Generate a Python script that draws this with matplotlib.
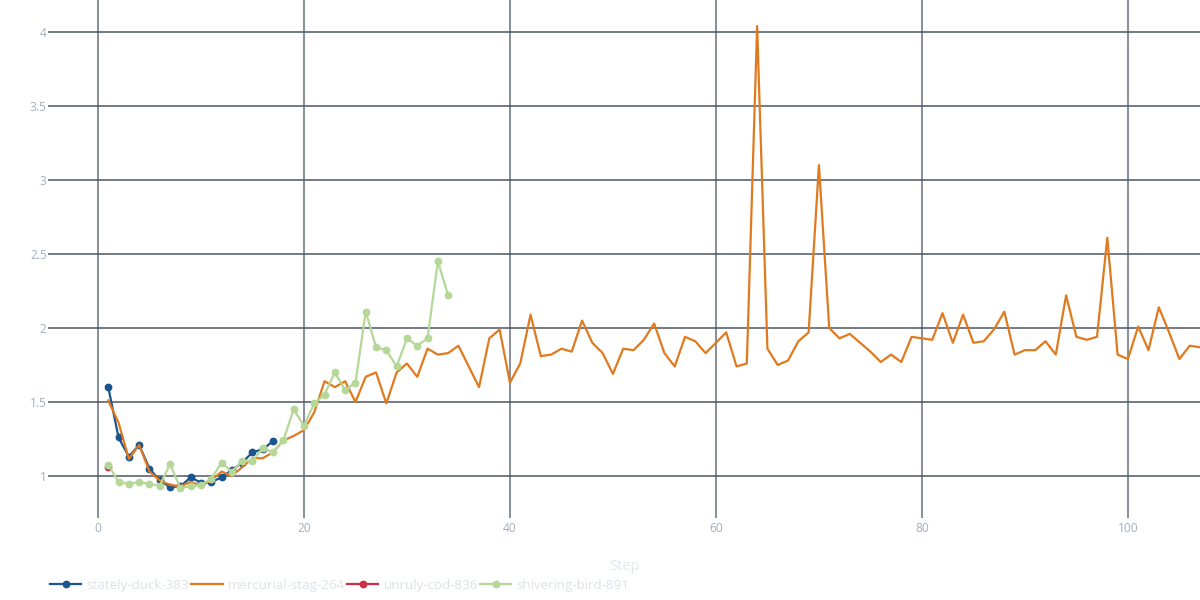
import matplotlib
matplotlib.use("Agg")
import matplotlib.pyplot as plt
from matplotlib.lines import Line2D

plt.rcParams['font.family'] = ['Open Sans', 'DejaVu Sans']

# ---- data ----
duck_steps = list(range(1, 18))
duck_vals = [1.60, 1.26, 1.13, 1.21, 1.05, 0.97, 0.925, 0.93, 0.99, 0.955,
             0.96, 0.99, 1.04, 1.09, 1.16, 1.18, 1.235]

stag_steps = list(range(1, 108))
stag_vals = [1.51, 1.36, 1.115, 1.21, 1.03, 0.97, 0.94, 0.93, 0.96, 0.935,
             0.97, 1.03, 1.00, 1.06, 1.12, 1.12, 1.16, 1.24, 1.27, 1.31,
             1.43, 1.64, 1.60, 1.64, 1.50, 1.67, 1.70, 1.49, 1.70, 1.76,
             1.67, 1.86, 1.82, 1.83, 1.88, 1.74, 1.60, 1.93, 1.99, 1.63,
             1.76, 2.09, 1.81, 1.82, 1.86, 1.84, 2.05, 1.90, 1.83, 1.69,
             1.86, 1.85, 1.92, 2.03, 1.83, 1.74, 1.94, 1.91, 1.83, 1.90,
             1.97, 1.74, 1.76, 4.04, 1.86, 1.75, 1.78, 1.91, 1.97, 3.10,
             2.00, 1.93, 1.96, 1.90, 1.84, 1.77, 1.82, 1.77, 1.94, 1.93,
             1.92, 2.10, 1.90, 2.09, 1.90, 1.91, 1.99, 2.11, 1.82, 1.85,
             1.85, 1.91, 1.82, 2.22, 1.94, 1.92, 1.94, 2.61, 1.82, 1.79,
             2.01, 1.85, 2.14, 1.97, 1.79, 1.88, 1.87]

cod_steps = [1]
cod_vals = [1.06]

bird_steps = list(range(1, 35))
bird_vals = [1.075, 0.96, 0.945, 0.96, 0.945, 0.935, 1.08, 0.92, 0.93, 0.94,
             0.98, 1.09, 1.03, 1.10, 1.10, 1.19, 1.16, 1.24, 1.45, 1.34,
             1.49, 1.55, 1.70, 1.58, 1.63, 2.11, 1.87, 1.85, 1.74, 1.93,
             1.88, 1.93, 2.45, 2.22]

names = ["stately-duck-383", "mercurial-stag-264", "unruly-cod-836", "shivering-bird-891"]
colors = ["#1b5590", "#e07a1f", "#cc2f45", "#b5d797"]
x_ticks = [0, 20, 40, 60, 80, 100]
y_ticks = [1, 1.5, 2, 2.5, 3, 3.5, 4]
y_tick_labels = ["1", "1.5", "2", "2.5", "3", "3.5", "4"]

# ---- figure ----
fig = plt.figure(figsize=(12, 6), dpi=100)
ax = fig.add_axes([48/1200, 82/600, 1152/1200, 518/600])

lw = 1.6
ms = 4.6
ax.plot(duck_steps, duck_vals, color=colors[0], lw=lw, marker='o', ms=ms, zorder=3)
ax.plot(cod_steps, cod_vals, color=colors[2], lw=lw, marker='o', ms=ms, zorder=2)
ax.plot(stag_steps, stag_vals, color=colors[1], lw=lw, zorder=4)
ax.plot(bird_steps, bird_vals, color=colors[3], lw=lw, marker='o', ms=ms, zorder=5)

ax.set_xlim(-4.85, 107.0)
ax.set_ylim(0.716, 4.216)
ax.set_xticks(x_ticks)
ax.set_yticks(y_ticks)
ax.set_yticklabels(y_tick_labels)

for v in x_ticks:
    ax.axvline(v, color="#7e8692", lw=1.3, zorder=1)
for v in y_ticks:
    ax.axhline(v, color="#4b5666", lw=1.1, zorder=1)

for s in ax.spines.values():
    s.set_visible(False)
ax.tick_params(axis='both', length=0, labelsize=8.6, colors="#a0aec0")
ax.tick_params(axis='x', pad=3)
ax.tick_params(axis='y', pad=1)

fig.text(624/1200, 1 - 566/600, "Step", ha='center', va='center',
         fontsize=10.5, color="#e3e7ee")

handles = [
    Line2D([], [], color=colors[0], lw=lw, marker='o', ms=ms),
    Line2D([], [], color=colors[1], lw=lw),
    Line2D([], [], color=colors[2], lw=lw, marker='o', ms=ms),
    Line2D([], [], color=colors[3], lw=lw, marker='o', ms=ms),
]
leg = fig.legend(handles, names, loc='center left',
                 bbox_to_anchor=(50/1200, 1 - 585/600), ncol=4, frameon=False,
                 fontsize=9.6, handlelength=2.35, handletextpad=0.4,
                 columnspacing=0.15, borderpad=0, borderaxespad=0)
for t in leg.get_texts():
    t.set_color("#dde2e9")

fig.savefig("out.png", dpi=100)
